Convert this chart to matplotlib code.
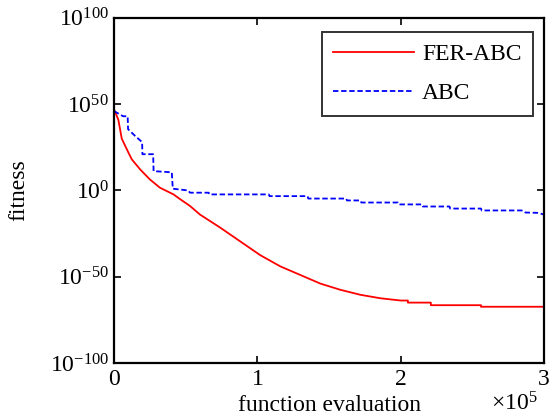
import numpy as np
import matplotlib
matplotlib.use("Agg")
import matplotlib.pyplot as plt
from matplotlib.ticker import FixedLocator, FuncFormatter, NullLocator

plt.rcParams['font.family'] = 'Liberation Serif'
plt.rcParams['mathtext.fontset'] = 'custom'
plt.rcParams['mathtext.rm'] = 'Liberation Serif'
plt.rcParams['mathtext.it'] = 'Liberation Serif:italic'
plt.rcParams['axes.unicode_minus'] = False
plt.rcParams['font.size'] = 17

# function evaluations and log10(fitness)
fer_abc_evals = [0, 0, 3000, 5400, 10000, 12400, 18200, 25000, 32000, 41500,
                 46000, 53000, 60000, 74000, 88000, 102000, 116000, 130000,
                 144000, 158000, 172000, 186000, 200000, 205000, 205000,
                 221000, 221000, 256000, 256000, 300000]
fer_abc_log = [55, 47, 41, 30, 22, 18, 12.2, 6.4, 1.6, -2.3,
               -5, -9, -14, -21.5, -29.5, -37.5, -44, -49,
               -54, -57.6, -60.5, -62.5, -63.8, -63.8, -65,
               -65, -66.5, -66.5, -67.4, -67.4]

abc_evals = [0, 6300, 9500, 9800, 14700, 19600, 19800, 27300, 27600, 40300,
             41000, 51700, 53000, 66000, 66500, 108000, 108500, 135000, 135500, 162000,
             162500, 172000, 172500, 198000, 198500, 215000, 215500, 234000, 234500, 256000,
             256500, 285000, 287000, 296000, 300000]
abc_log = [46, 43, 43, 35.5, 31.6, 28, 21, 21, 11.2, 10.5,
           1, 0, -1.3, -1.3, -2.3, -2.3, -3.3, -3.3, -4.7, -4.7,
           -5.8, -5.8, -7, -7, -8.1, -8.1, -9.3, -9.3, -10.5, -10.5,
           -11.6, -11.6, -12.8, -13, -14]

y_tick_exps = [-100, -50, 0, 50, 100]
x_ticks = [0, 100000, 200000, 300000]

fig = plt.figure(figsize=(5.49, 4.16), dpi=100)
ax = fig.add_axes([0.2077, 0.1274, 0.7833, 0.8296])

ax.plot(fer_abc_evals, 10.0 ** np.array(fer_abc_log), color='red', lw=1.3, label='FER-ABC')
ax.plot(abc_evals, 10.0 ** np.array(abc_log), color='blue', lw=1.3, ls=(0, (3, 1.5)), label='ABC')

ax.set_yscale('log')
ax.set_xlim(0, 300000)
ax.set_ylim(1e-100, 1e100)

ax.yaxis.set_major_locator(FixedLocator([10.0 ** e for e in y_tick_exps]))
ax.yaxis.set_minor_locator(NullLocator())
ax.yaxis.set_major_formatter(FuncFormatter(lambda v, p: r'$10^{%d}$' % round(np.log10(v))))
ax.xaxis.set_major_locator(FixedLocator(x_ticks))
ax.xaxis.set_major_formatter(FuncFormatter(lambda v, p: '%d' % round(v / 1e5)))

ax.tick_params(direction='in', length=5, width=1.2, top=True, right=True, labelsize=17)
ax.tick_params(axis='x', pad=4)
for s in ax.spines.values():
    s.set_linewidth(1.6)

ax.set_xlabel('function evaluation', fontsize=17, labelpad=4)
ax.set_ylabel('fitness', fontsize=17, labelpad=15)
ax.text(0.985, -0.085, r'$\times10^{5}$', transform=ax.transAxes, ha='right', va='top', fontsize=17)

leg = ax.legend(loc='upper right', bbox_to_anchor=(0.975, 0.96), fontsize=17, frameon=True,
                fancybox=False, handlelength=3.4, handletextpad=0.35, borderpad=0.5,
                labelspacing=0.73, borderaxespad=0)
leg.get_frame().set_edgecolor('black')
leg.get_frame().set_linewidth(1.4)

fig.savefig('out.png', dpi=100)
